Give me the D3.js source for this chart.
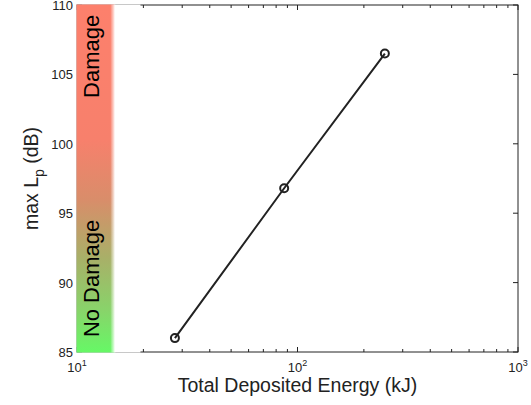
<!DOCTYPE html>
<html>
<head>
<meta charset="utf-8">
<script src="https://cdn.jsdelivr.net/npm/d3@7"></script>
<style>
  body { margin: 0; background: #fff; }
  text { font-family: "Liberation Sans", Arial, sans-serif; }
</style>
</head>
<body>
<script>
var width = 531;
var height = 405;

// data
var energy = [27.8, 87, 249];          // kJ
var maxLp = [86.0, 96.8, 106.5];        // dB
var yTicks = [85, 90, 95, 100, 105, 110];
var xDecades = [10, 100, 1000];
var bandLimit = 14.6;                   // kJ, right edge of the coloured band

var margin = { left: 77, right: 13, top: 5, bottom: 53 };

var svg = d3.select("body")
    .append("svg")
    .attr("width", width)
    .attr("height", height);

var x = d3.scaleLog()
    .domain([10, 1000])
    .range([margin.left, width - margin.right]);

var y = d3.scaleLinear()
    .domain([85, 110])
    .range([height - margin.bottom, margin.top]);

var ink = "#222";

// minor ticks on the log axis
var minor = [];
[10, 100].forEach( (d) => {
    for (var k = 2; k <= 9; k++) minor.push(d * k);
});

var frame = svg.append("g");

frame.append("rect")
    .attr("x", x(10))
    .attr("y", y(110))
    .attr("width", x(1000) - x(10))
    .attr("height", y(85) - y(110))
    .attr("fill", "none")
    .attr("stroke", ink)
    .attr("stroke-width", 1);

// ticks inside the box, bottom and top
frame.selectAll(".xminor")
    .data(minor.concat(xDecades))
    .enter()
    .each( function(d) {
        var len = xDecades.indexOf(d) >= 0 ? 5 : 3;
        d3.select(this).append("line")
            .attr("x1", x(d)).attr("x2", x(d))
            .attr("y1", y(85)).attr("y2", y(85) - len)
            .attr("stroke", ink);
        d3.select(this).append("line")
            .attr("x1", x(d)).attr("x2", x(d))
            .attr("y1", y(110)).attr("y2", y(110) + len)
            .attr("stroke", ink);
    });

// y ticks inside, left and right
frame.selectAll(".ytick")
    .data(yTicks)
    .enter()
    .each( function(d) {
        d3.select(this).append("line")
            .attr("x1", x(10)).attr("x2", x(10) + 5)
            .attr("y1", y(d)).attr("y2", y(d))
            .attr("stroke", ink);
        d3.select(this).append("line")
            .attr("x1", x(1000)).attr("x2", x(1000) - 5)
            .attr("y1", y(d)).attr("y2", y(d))
            .attr("stroke", ink);
    });

// coloured damage band
var defs = svg.append("defs");
var grad = defs.append("linearGradient")
    .attr("id", "band")
    .attr("x1", 0).attr("y1", 0)
    .attr("x2", 0).attr("y2", 1);
[[0, "#fd806c"], [0.39, "#f7806c"], [0.56, "#d98d6a"], [0.73, "#a8b068"], [0.88, "#88d46a"], [1, "#66f866"]]
    .forEach( (s) => grad.append("stop").attr("offset", s[0]).attr("stop-color", s[1]) );

var fade = defs.append("linearGradient")
    .attr("id", "fade")
    .attr("x1", 0).attr("x2", 1).attr("y1", 0).attr("y2", 0);
fade.append("stop").attr("offset", 0).attr("stop-color", "#fff").attr("stop-opacity", 0);
fade.append("stop").attr("offset", 1).attr("stop-color", "#fff").attr("stop-opacity", 1);

// white mat behind the band hides the frame there
svg.append("rect")
    .attr("x", x(10) - 0.5)
    .attr("y", y(110) - 0.5)
    .attr("width", x(19.5) - x(10))
    .attr("height", y(85) - y(110) + 1)
    .attr("fill", "#fff");

svg.append("rect")
    .attr("x", x(10) - 0.5)
    .attr("y", y(110) - 0.5)
    .attr("width", x(bandLimit) - x(10) + 2)
    .attr("height", y(85) - y(110) + 1)
    .attr("fill", "url(#band)");

svg.append("rect")
    .attr("x", x(bandLimit) - 3)
    .attr("y", y(110) - 0.5)
    .attr("width", 5)
    .attr("height", y(85) - y(110) + 1)
    .attr("fill", "url(#fade)");

var bandMid = x(10) + 22;
svg.append("text")
    .attr("transform", `translate(${bandMid},${y(106.3)}) rotate(-90)`)
    .attr("text-anchor", "middle")
    .attr("font-size", 22)
    .attr("fill", "#000")
    .text("Damage");

svg.append("text")
    .attr("transform", `translate(${bandMid},${y(90.3)}) rotate(-90)`)
    .attr("text-anchor", "middle")
    .attr("font-size", 22)
    .attr("fill", "#000")
    .text("No Damage");

// tick labels
svg.selectAll(".ylab")
    .data(yTicks)
    .enter()
    .append("text")
    .attr("x", x(10) - 4)
    .attr("y", (d) => y(d) + 5)
    .attr("text-anchor", "end")
    .attr("font-size", 13)
    .attr("fill", "#222")
    .text( (d) => d );

var xl = svg.selectAll(".xlab")
    .data(xDecades)
    .enter()
    .append("text")
    .attr("x", (d) => x(d))
    .attr("y", y(85) + 20)
    .attr("text-anchor", "middle")
    .attr("font-size", 13)
    .attr("fill", "#222");
xl.append("tspan").text("10");
xl.append("tspan")
    .attr("dy", -6)
    .attr("font-size", 9)
    .text( (d) => Math.round(Math.log10(d)) );

// axis titles
svg.append("text")
    .attr("x", (x(10) + x(1000)) / 2)
    .attr("y", 392)
    .attr("text-anchor", "middle")
    .attr("font-size", 19.5)
    .attr("fill", "#222")
    .text("Total Deposited Energy (kJ)");

var yt = svg.append("text")
    .attr("transform", `translate(38,${(y(85) + y(110)) / 2}) rotate(-90)`)
    .attr("text-anchor", "middle")
    .attr("font-size", 19.5)
    .attr("fill", "#222");
yt.append("tspan").text("max L");
yt.append("tspan").attr("dy", 6).attr("font-size", 14).text("p");
yt.append("tspan").attr("dy", -6).text(" (dB)");

// the series
var pts = energy.map( (e, i) => ({ e: e, v: maxLp[i] }) );

svg.append("path")
    .datum(pts)
    .attr("d", d3.line().x( (d) => x(d.e) ).y( (d) => y(d.v) ))
    .attr("fill", "none")
    .attr("stroke", ink)
    .attr("stroke-width", 2);

svg.selectAll(".pt")
    .data(pts)
    .enter()
    .append("circle")
    .attr("cx", (d) => x(d.e))
    .attr("cy", (d) => y(d.v))
    .attr("r", 4)
    .attr("fill", "none")
    .attr("stroke", ink)
    .attr("stroke-width", 2);
</script>
</body>
</html>
